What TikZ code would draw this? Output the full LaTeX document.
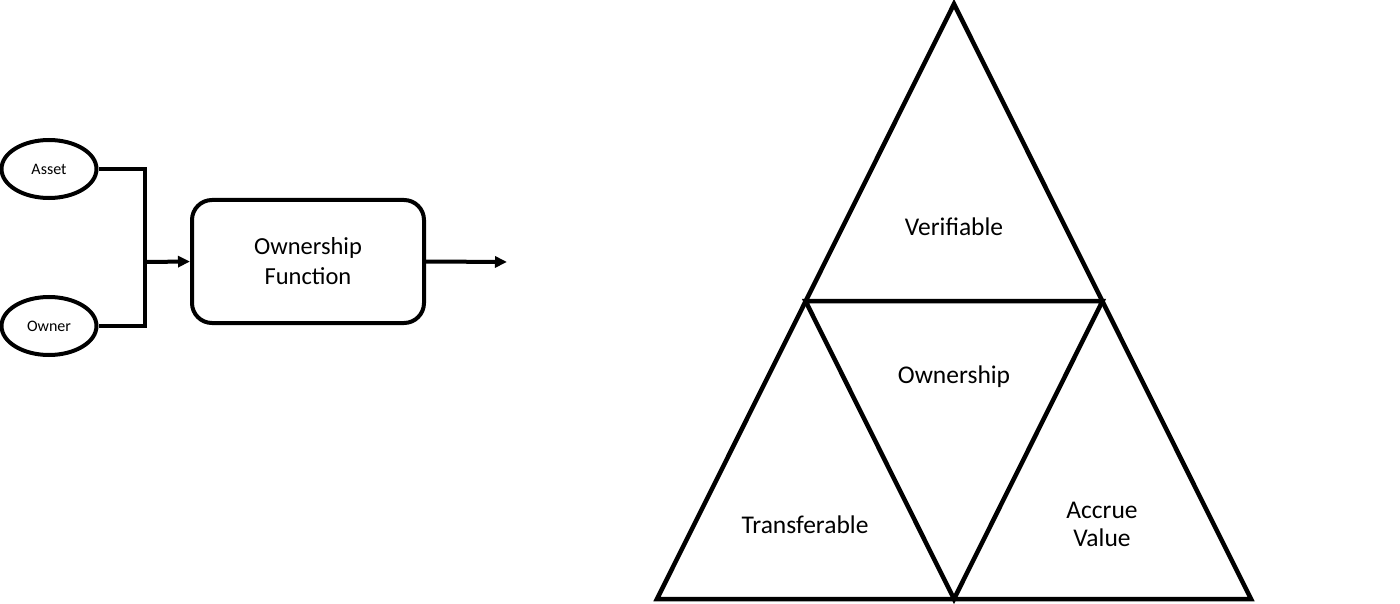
\documentclass[tikz,border=0pt]{standalone}
\usepackage{fontspec}
\setmainfont{Carlito}
\usepackage{tikz}
\usetikzlibrary{arrows.meta, shapes.geometric}

\begin{document}
\begin{tikzpicture}[
    x=1pt, y=-1pt,
    input/.style={draw, ellipse, line width=4pt, minimum width=95pt, minimum height=58pt, inner sep=0pt, font=\fontsize{16}{19}\selectfont},
    block/.style={draw, rounded corners=20pt, line width=4pt, align=center, minimum width=232pt, minimum height=123pt, font=\fontsize{24.5}{30}\selectfont},
    label/.style={align=center, font=\fontsize{25.5}{28}\selectfont},
    wire/.style={line width=4pt},
    arrow/.style={-{Triangle[length=12pt, width=11pt]}, line width=4pt},
    edge/.style={line width=4.5pt, line join=miter}
]
\useasboundingbox (0,0) rectangle (1400,604);
% left: ownership function
\node[input] (asset) at (49,169) {Asset};
\node[input] (owner) at (49,326) {Owner};
\node[block] (func) at (308,261.5) {Ownership\\Function};
\coordinate (join) at (145,262);
\coordinate (out) at (507,262);
\draw[wire] (asset.east) -| (join) |- (owner.east);
\draw[arrow] (join) -- (func.west);
\draw[arrow] (func.east) -- (out);
% right: triangle of properties
\coordinate (top) at (954,4);
\coordinate (bl) at (657,599);
\coordinate (br) at (1251,599);
\coordinate (ml) at (805.5,301);
\coordinate (mr) at (1102.5,301);
\coordinate (mb) at (954,599);
\draw[edge] (top) -- (bl) -- (br) -- cycle;
\draw[edge] (ml) -- (mr) -- (mb) -- cycle;
\node[label] (verif) at (954,227) {Verifiable};
\node[label] (own) at (954,377) {Ownership};
\node[label] (trans) at (805,525) {Transferable};
\node[label] (accrue) at (1102,524) {Accrue\\Value};
\end{tikzpicture}
\end{document}
